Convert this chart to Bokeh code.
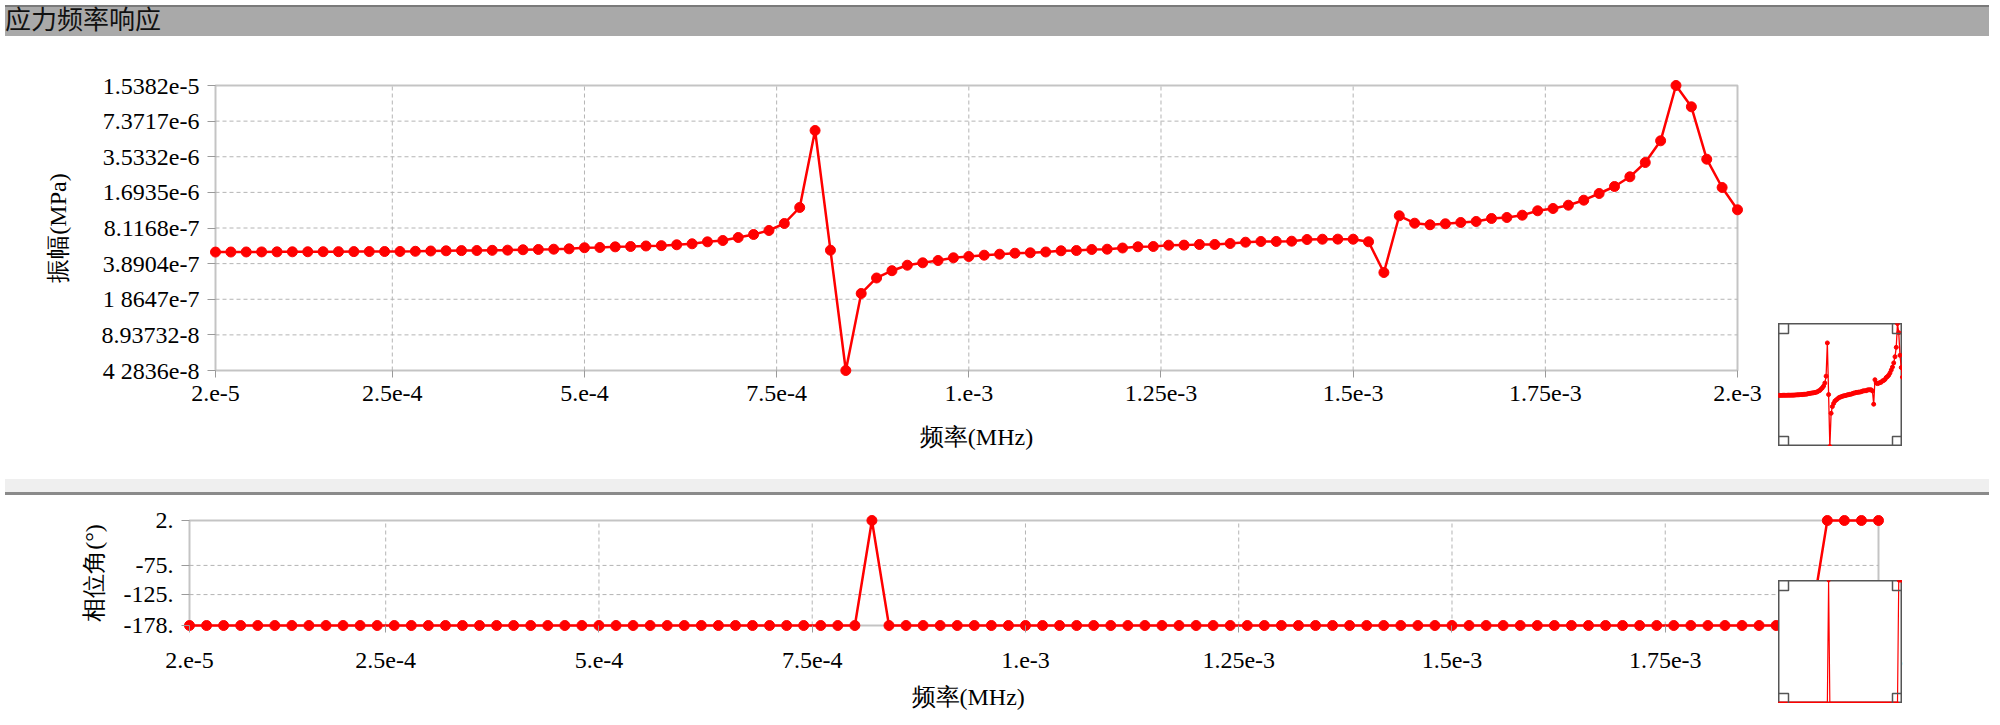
from bokeh.plotting import figure
from bokeh.models import Range1d, FixedTicker, Div, Title, Spacer, BoxAnnotation
from bokeh.layouts import column, row
from bokeh.embed import file_html
from bokeh.resources import INLINE

# ---------------- data ----------------
freq_mhz = [
    2e-5, 4e-5, 6e-5, 8e-5, 10e-5, 12e-5, 14e-5, 16e-5, 18e-5, 20e-5,
    22e-5, 24e-5, 26e-5, 28e-5, 30e-5, 32e-5, 34e-5, 36e-5, 38e-5, 40e-5,
    42e-5, 44e-5, 46e-5, 48e-5, 50e-5, 52e-5, 54e-5, 56e-5, 58e-5, 60e-5,
    62e-5, 64e-5, 66e-5, 68e-5, 70e-5, 72e-5, 74e-5, 76e-5, 78e-5, 80e-5,
    82e-5, 84e-5, 86e-5, 88e-5, 90e-5, 92e-5, 94e-5, 96e-5, 98e-5, 100e-5,
    102e-5, 104e-5, 106e-5, 108e-5, 110e-5, 112e-5, 114e-5, 116e-5, 118e-5, 120e-5,
    122e-5, 124e-5, 126e-5, 128e-5, 130e-5, 132e-5, 134e-5, 136e-5, 138e-5, 140e-5,
    142e-5, 144e-5, 146e-5, 148e-5, 150e-5, 152e-5, 154e-5, 156e-5, 158e-5, 160e-5,
    162e-5, 164e-5, 166e-5, 168e-5, 170e-5, 172e-5, 174e-5, 176e-5, 178e-5, 180e-5,
    182e-5, 184e-5, 186e-5, 188e-5, 190e-5, 192e-5, 194e-5, 196e-5, 198e-5, 200e-5,
]

amplitude_mpa = [
    4.94e-7, 4.945e-7, 4.95e-7, 4.955e-7, 4.96e-7, 4.965e-7, 4.97e-7, 4.975e-7, 4.98e-7, 4.985e-7,
    4.99e-7, 4.995e-7, 5.00e-7, 5.02e-7, 5.05e-7, 5.07e-7, 5.09e-7, 5.10e-7, 5.12e-7, 5.14e-7,
    5.18e-7, 5.21e-7, 5.24e-7, 5.28e-7, 5.40e-7, 5.43e-7, 5.50e-7, 5.54e-7, 5.60e-7, 5.64e-7,
    5.74e-7, 5.86e-7, 6.10e-7, 6.27e-7, 6.67e-7, 7.10e-7, 7.71e-7, 8.91e-7, 1.2395e-6, 6.075e-6,
    5.134e-7, 4.2836e-8, 2.100e-7, 2.892e-7, 3.362e-7, 3.765e-7, 3.957e-7, 4.150e-7, 4.388e-7, 4.507e-7,
    4.630e-7, 4.726e-7, 4.825e-7, 4.865e-7, 4.947e-7, 5.071e-7, 5.10e-7, 5.209e-7, 5.24e-7, 5.372e-7,
    5.507e-7, 5.541e-7, 5.692e-7, 5.70e-7, 5.775e-7, 5.78e-7, 5.895e-7, 6.055e-7, 6.144e-7, 6.15e-7,
    6.182e-7, 6.40e-7, 6.44e-7, 6.45e-7, 6.44e-7, 6.106e-7, 3.239e-7, 1.0443e-6, 8.966e-7, 8.675e-7,
    8.855e-7, 9.096e-7, 9.285e-7, 9.877e-7, 1.0083e-6, 1.0573e-6, 1.158e-6, 1.2142e-6, 1.2997e-6, 1.4413e-6,
    1.655e-6, 1.912e-6, 2.336e-6, 3.138e-6, 4.911e-6, 1.5382e-5, 9.910e-6, 3.359e-6, 1.873e-6, 1.1818e-6,
]

phase_deg = [
    -178, -178, -178, -178, -178, -178, -178, -178, -178, -178,
    -178, -178, -178, -178, -178, -178, -178, -178, -178, -178,
    -178, -178, -178, -178, -178, -178, -178, -178, -178, -178,
    -178, -178, -178, -178, -178, -178, -178, -178, -178, -178,
    2, -178, -178, -178, -178, -178, -178, -178, -178, -178,
    -178, -178, -178, -178, -178, -178, -178, -178, -178, -178,
    -178, -178, -178, -178, -178, -178, -178, -178, -178, -178,
    -178, -178, -178, -178, -178, -178, -178, -178, -178, -178,
    -178, -178, -178, -178, -178, -178, -178, -178, -178, -178,
    -178, -178, -178, -178, -178, -178, 2, 2, 2, 2,
]

x_ticks = [2e-5, 2.5e-4, 5e-4, 7.5e-4, 1e-3, 1.25e-3, 1.5e-3, 1.75e-3, 2e-3]
x_tick_labels = ["2.e-5", "2.5e-4", "5.e-4", "7.5e-4", "1.e-3", "1.25e-3", "1.5e-3", "1.75e-3", "2.e-3"]

amp_ticks = [1.5382e-5, 7.3717e-6, 3.5332e-6, 1.6935e-6, 8.1168e-7, 3.8904e-7, 1.8647e-7, 8.93732e-8, 4.2836e-8]
amp_tick_labels = ["1.5382e-5", "7.3717e-6", "3.5332e-6", "1.6935e-6", "8.1168e-7", "3.8904e-7",
                   "1 8647e-7", "8.93732-8", "4 2836e-8"]

phase_ticks = [2, -75, -125, -178]
phase_tick_labels = ["2.", "-75.", "-125.", "-178."]

x_min, x_max = 2e-5, 2e-3
amp_min, amp_max = 4.2836e-8, 1.5382e-5
ph_min, ph_max = -178, 2

title_text = "应力频率响应"
x_label = "频率(MHz)"
amp_label = "振幅(MPa)"
phase_label = "相位角(°)"

# ---------------- style ----------------
FONT = "Liberation Serif"
RED = "#ff0000"
FRAME = "#3c3c3c"
GRID = "#b4b4b4"
TICK = "#9a9a9a"
PAD = 7  # px of free space round the drawn box so edge markers are not cut

TOP_W, TOP_H = 1522, 285
BOT_W, BOT_H = 1689, 105


def style_axes(p, x_standoff):
    p.outline_line_color = None
    p.background_fill_color = "white"
    p.border_fill_color = "white"
    p.xgrid.visible = False
    p.ygrid.visible = False
    for ax in (p.xaxis[0], p.yaxis[0]):
        ax.axis_line_color = None
        ax.major_tick_line_color = TICK
        ax.major_tick_line_width = 1
        ax.minor_tick_line_color = None
        ax.major_label_text_font = FONT
        ax.major_label_text_font_size = "24px"
        ax.major_label_text_color = "#000000"
        ax.axis_label_text_font = FONT
        ax.axis_label_text_font_size = "24px"
        ax.axis_label_text_font_style = "normal"
        ax.axis_label_text_color = "#000000"
    p.xaxis[0].major_tick_in = PAD
    p.xaxis[0].major_tick_out = 0
    p.yaxis[0].major_tick_in = PAD
    p.yaxis[0].major_tick_out = 1
    p.xaxis[0].major_label_standoff = x_standoff
    p.yaxis[0].major_label_standoff = 8
    p.xaxis[0].ticker = FixedTicker(ticks=x_ticks)
    p.xaxis[0].major_label_overrides = {t: l for t, l in zip(x_ticks, x_tick_labels)}


def box_and_grid(p, y_ticks, y_lo, y_hi):
    p.add_layout(BoxAnnotation(left=x_min, right=x_max, bottom=y_lo, top=y_hi,
                               fill_color=None, line_color=FRAME, line_width=2, level="underlay"))
    gx = [t for t in x_ticks if x_min < t < x_max]
    p.segment(x0=gx, y0=[y_lo] * len(gx), x1=gx, y1=[y_hi] * len(gx),
              line_color=GRID, line_width=1, line_dash="4 3")
    gy = [t for t in y_ticks if y_lo < t < y_hi]
    p.segment(x0=[x_min] * len(gy), y0=gy, x1=[x_max] * len(gy), y1=gy,
              line_color=GRID, line_width=1, line_dash="4 3")


def corners(p, y_lo, y_hi):
    xs = [x_min, x_min, x_max, x_max]
    ys = [y_lo, y_hi, y_lo, y_hi]
    p.rect(xs, ys, width=20, height=20, width_units="screen", height_units="screen",
           fill_color=None, line_color="#555555", line_width=1.5)


# ---------------- title bar ----------------
title = Div(text=title_text, width=1984, height=31,
            styles={"background": "linear-gradient(to bottom, #7a7a7a 0px, #7a7a7a 2px, #a9a9a9 2px, #a9a9a9 100%)",
                    "font-family": "'Liberation Serif', 'Noto Sans CJK SC'",
                    "font-size": "26px", "line-height": "31px", "color": "#111111"})

# ---------------- amplitude plot ----------------
tpx = (x_max - x_min) / TOP_W * PAD
tpf = (amp_max / amp_min) ** (PAD / TOP_H)
top = figure(width=1762, height=433, x_range=Range1d(x_min - tpx, x_max + tpx),
             y_range=Range1d(amp_min / tpf, amp_max * tpf), y_axis_type="log",
             output_backend="svg", toolbar_location=None,
             min_border_left=207 - PAD, min_border_right=33 - PAD,
             min_border_top=44 - PAD, min_border_bottom=104 - PAD)
style_axes(top, 8)
top.yaxis[0].ticker = FixedTicker(ticks=amp_ticks)
top.yaxis[0].major_label_overrides = {t: l for t, l in zip(amp_ticks, amp_tick_labels)}
top.xaxis[0].axis_label = x_label
top.xaxis[0].axis_label_standoff = 20
top.yaxis[0].axis_label = amp_label
top.yaxis[0].axis_label_standoff = 28
box_and_grid(top, amp_ticks, amp_min, amp_max)
top.line(freq_mhz, amplitude_mpa, line_color=RED, line_width=2.5)
top.scatter(freq_mhz, amplitude_mpa, size=10, color=RED)

top_inset = figure(width=124, height=123, x_range=Range1d(x_min, x_max),
                   y_range=Range1d(amp_min, amp_max), y_axis_type="log",
                   x_axis_location=None, y_axis_location=None,
                   output_backend="svg", toolbar_location=None, min_border=0)
top_inset.grid.visible = False
top_inset.outline_line_color = "#555555"
top_inset.outline_line_width = 2
top_inset.line(freq_mhz, amplitude_mpa, line_color=RED, line_width=1.3)
top_inset.scatter(freq_mhz, amplitude_mpa, size=4, color=RED)
corners(top_inset, amp_min, amp_max)

# ---------------- separator ----------------
sep = Div(text="", width=1984, height=16,
          styles={"background": "linear-gradient(to bottom, #efefef 0px, #efefef 13px, #8a8a8a 13px, #8a8a8a 16px)"})

# ---------------- phase plot ----------------
bpx = (x_max - x_min) / BOT_W * PAD
bpy = (ph_max - ph_min) / BOT_H * PAD
bot = figure(width=1900, height=229, x_range=Range1d(x_min - bpx, x_max + bpx),
             y_range=Range1d(ph_min - bpy, ph_max + bpy),
             output_backend="svg", toolbar_location=None,
             min_border_left=181 - PAD, min_border_right=30 - PAD,
             min_border_top=20 - PAD, min_border_bottom=104 - PAD)
style_axes(bot, 20)
bot.yaxis[0].ticker = FixedTicker(ticks=phase_ticks)
bot.yaxis[0].major_label_overrides = {t: l for t, l in zip(phase_ticks, phase_tick_labels)}
bot.yaxis[0].axis_label = phase_label
bot.yaxis[0].axis_label_standoff = 14
box_and_grid(bot, phase_ticks, ph_min, ph_max)
bot.line(freq_mhz, phase_deg, line_color=RED, line_width=2.5)
bot.scatter(freq_mhz, phase_deg, size=10, color=RED)
bot.add_layout(Title(text=x_label, align="left", offset=736 - PAD, standoff=22,
                     text_font=FONT, text_font_size="24px", text_font_style="normal",
                     text_color="#000000"), "below")

bot_inset = figure(width=124, height=123, x_range=Range1d(x_min, x_max),
                   y_range=Range1d(ph_min, ph_max),
                   x_axis_location=None, y_axis_location=None,
                   output_backend="svg", toolbar_location=None, min_border=0)
bot_inset.grid.visible = False
bot_inset.outline_line_color = "#555555"
bot_inset.outline_line_width = 2
bot_inset.background_fill_color = "white"
bot_inset.border_fill_color = "white"
bot_inset.line(freq_mhz, phase_deg, line_color=RED, line_width=1.2)
bot_inset.scatter(freq_mhz, phase_deg, size=3, color=RED)
corners(bot_inset, ph_min, ph_max)

top_row = row(Spacer(width=8), top, Spacer(width=8), column(Spacer(height=282), top_inset))
bot_row = row(Spacer(width=8), bot,
              column(Spacer(height=80), bot_inset, styles={"margin-left": "-130px"}))
layout = column(title, top_row, sep, bot_row, spacing=0)

open("out.html", "w").write(file_html(layout, INLINE))
